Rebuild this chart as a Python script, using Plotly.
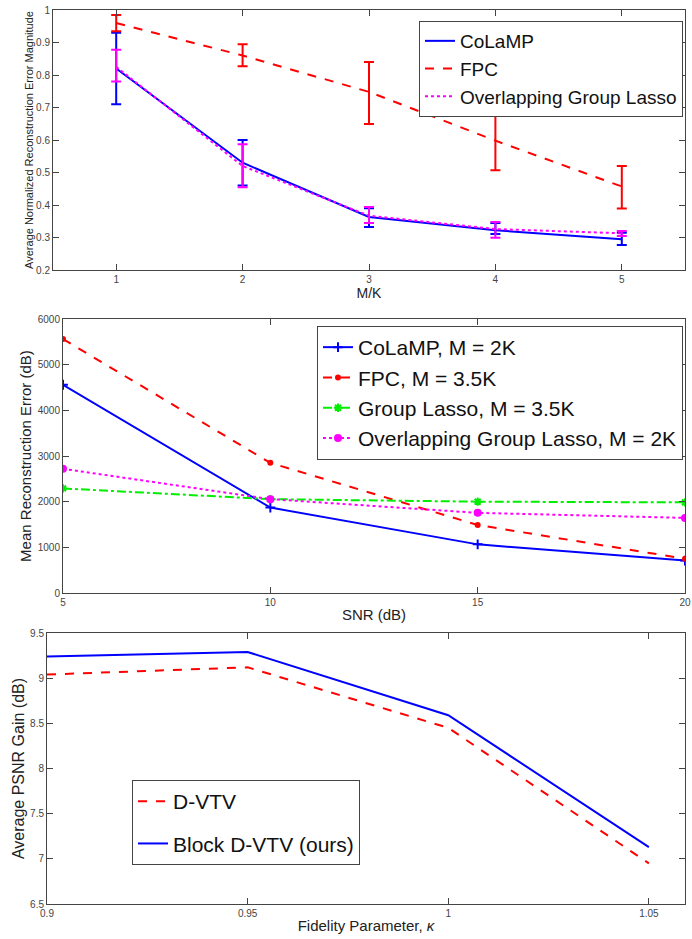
import plotly.graph_objects as go

W, H = 692, 939

# ---------- Panel 1 data ----------
mk = [1, 2, 3, 4, 5]
mk_ticks = [1, 2, 3, 4, 5]
colamp_mean = [0.82, 0.53, 0.363, 0.322, 0.295]
colamp_hi = [0.93, 0.60, 0.39, 0.345, 0.315]
colamp_lo = [0.71, 0.46, 0.332, 0.311, 0.277]
fpc_mean = [0.96, 0.86, 0.748, 0.598, 0.457]
fpc_hi = [0.985, 0.895, 0.84, 0.68, 0.52]
fpc_lo = [0.935, 0.827, 0.649, 0.507, 0.389]
ogl_mean = [0.825, 0.52, 0.367, 0.326, 0.313]
ogl_hi = [0.878, 0.587, 0.394, 0.348, 0.32]
ogl_lo = [0.78, 0.455, 0.345, 0.299, 0.305]
p1_yticks = [0.2, 0.3, 0.4, 0.5, 0.6, 0.7, 0.8, 0.9, 1]
p1_yticklabels = ["0.2", "0.3", "0.4", "0.5", "0.6", "0.7", "0.8", "0.9", "1"]

# ---------- Panel 2 data ----------
snr = [5, 10, 15, 20]
snr_ticks = [5, 10, 15, 20]
colamp_err = [4560, 1870, 1065, 710]
fpc_err = [5560, 2850, 1490, 750]
gl_err = [2290, 2055, 2000, 1985]
ogl_err = [2720, 2055, 1755, 1645]
p2_yticks = [0, 1000, 2000, 3000, 4000, 5000, 6000]

# ---------- Panel 3 data ----------
kappa = [0.9, 0.95, 1.0, 1.05]
kappa_ticks = [0.9, 0.95, 1.0, 1.05]
kappa_ticklabels = ["0.9", "0.95", "1", "1.05"]
dvtv = [9.04, 9.12, 8.45, 6.95]
block_dvtv = [9.24, 9.29, 8.59, 7.13]
p3_yticks = [6.5, 7, 7.5, 8, 8.5, 9, 9.5]
p3_yticklabels = ["6.5", "7", "7.5", "8", "8.5", "9", "9.5"]

BLUE, RED, GREEN, MAG = "#0000FF", "#FF0000", "#00EE00", "#FF00FF"
FONT = "Liberation Sans, Arial, sans-serif"


def px_x(a, b):
    return [a / W, b / W]


def px_y(top, bottom):
    return [1 - bottom / H, 1 - top / H]


def diff(a, b):
    return [x - y for x, y in zip(a, b)]


fig = go.Figure()

# Panel 1
def add_err(y, hi, lo, color, dash, name):
    fig.add_trace(go.Scatter(
        x=mk, y=y, mode="lines", name=name,
        line=dict(color=color, width=2, dash=dash),
        error_y=dict(type="data", symmetric=False, array=diff(hi, y),
                     arrayminus=diff(y, lo), color=color, thickness=2, width=5),
        xaxis="x", yaxis="y", legend="legend"))

add_err(colamp_mean, colamp_hi, colamp_lo, BLUE, "solid", "CoLaMP")
add_err(fpc_mean, fpc_hi, fpc_lo, RED, "dash", "FPC")
add_err(ogl_mean, ogl_hi, ogl_lo, MAG, "dot", "Overlapping Group Lasso")

# Panel 2
fig.add_trace(go.Scatter(x=snr, y=colamp_err, mode="lines+markers", name="CoLaMP, M = 2K",
                         line=dict(color=BLUE, width=2),
                         marker=dict(symbol="cross-thin", size=7, line=dict(color=BLUE, width=2)),
                         xaxis="x2", yaxis="y2", legend="legend2"))
fig.add_trace(go.Scatter(x=snr, y=fpc_err, mode="lines+markers", name="FPC, M = 3.5K",
                         line=dict(color=RED, width=2, dash="dash"),
                         marker=dict(symbol="circle", size=6, color=RED),
                         xaxis="x2", yaxis="y2", legend="legend2"))
fig.add_trace(go.Scatter(x=snr, y=gl_err, mode="lines+markers", name="Group Lasso, M = 3.5K",
                         line=dict(color=GREEN, width=2, dash="dashdot"),
                         marker=dict(symbol="asterisk", size=7, line=dict(color=GREEN, width=2)),
                         xaxis="x2", yaxis="y2", legend="legend2"))
fig.add_trace(go.Scatter(x=snr, y=ogl_err, mode="lines+markers", name="Overlapping Group Lasso, M = 2K",
                         line=dict(color=MAG, width=2, dash="dot"),
                         marker=dict(symbol="circle", size=8, color=MAG),
                         xaxis="x2", yaxis="y2", legend="legend2"))

# Panel 3
fig.add_trace(go.Scatter(x=kappa, y=dvtv, mode="lines", name="D-VTV",
                         line=dict(color=RED, width=2, dash="dash"),
                         xaxis="x3", yaxis="y3", legend="legend3", legendgroup="a"))
fig.add_trace(go.Scatter(x=kappa, y=block_dvtv, mode="lines", name="Block D-VTV (ours)",
                         line=dict(color=BLUE, width=2),
                         xaxis="x3", yaxis="y3", legend="legend3", legendgroup="b"))

axis_common = dict(showline=True, linecolor="#444", linewidth=1, mirror="ticks",
                   ticks="inside", ticklen=6, tickcolor="#444", showgrid=False,
                   zeroline=False, automargin=False, ticklabeloverflow="allow",
                   tickfont=dict(size=10, color="#444", family=FONT))

fig.update_layout(
    width=W, height=H, margin=dict(l=0, r=0, t=0, b=0),
    paper_bgcolor="white", plot_bgcolor="white",
    font=dict(family=FONT, color="#222"),
    xaxis=dict(domain=px_x(53, 685), range=[0.5, 5.5], tickvals=mk_ticks,
               title=dict(text="M/K", font=dict(size=14), standoff=2), anchor="y", **axis_common),
    yaxis=dict(domain=px_y(10, 270), range=[0.2, 1.0], tickvals=p1_yticks,
               ticktext=p1_yticklabels,
               title=dict(text="Average Normalized Reconstruction Error Magnitude",
                          font=dict(size=11), standoff=0), anchor="x", **axis_common),
    xaxis2=dict(domain=px_x(63, 685), range=[5, 20], tickvals=snr_ticks,
                title=dict(text="SNR (dB)", font=dict(size=15), standoff=2), anchor="y2", **axis_common),
    yaxis2=dict(domain=px_y(319, 593), range=[0, 6000], tickvals=p2_yticks,
                title=dict(text="Mean Reconstruction Error (dB)", font=dict(size=15), standoff=2),
                anchor="x2", **axis_common),
    xaxis3=dict(domain=px_x(47, 685), range=[0.9, 1.059], tickvals=kappa_ticks,
                ticktext=kappa_ticklabels,
                title=dict(text="Fidelity Parameter, <i>κ</i>", font=dict(size=15), standoff=2),
                anchor="y3", **axis_common),
    yaxis3=dict(domain=px_y(633, 904), range=[6.5, 9.5], tickvals=p3_yticks,
                ticktext=p3_yticklabels,
                title=dict(text="Average PSNR Gain (dB)", font=dict(size=16), standoff=1),
                anchor="x3", **axis_common),
    legend=dict(x=683 / W, y=1 - 21 / H, xanchor="right", yanchor="top",
                bgcolor="white", bordercolor="#444", borderwidth=1,
                font=dict(size=19, color="#111"), tracegroupgap=0,
                itemwidth=30),
    legend2=dict(x=683 / W, y=1 - 326 / H, xanchor="right", yanchor="top",
                 bgcolor="white", bordercolor="#444", borderwidth=1,
                 font=dict(size=21, color="#111"), itemwidth=30),
    legend3=dict(x=132 / W, y=1 - 780 / H, xanchor="left", yanchor="top",
                 bgcolor="white", bordercolor="#444", borderwidth=1,
                 font=dict(size=21, color="#111"), itemwidth=30, tracegroupgap=12),
)

fig.write_html("out.html")
